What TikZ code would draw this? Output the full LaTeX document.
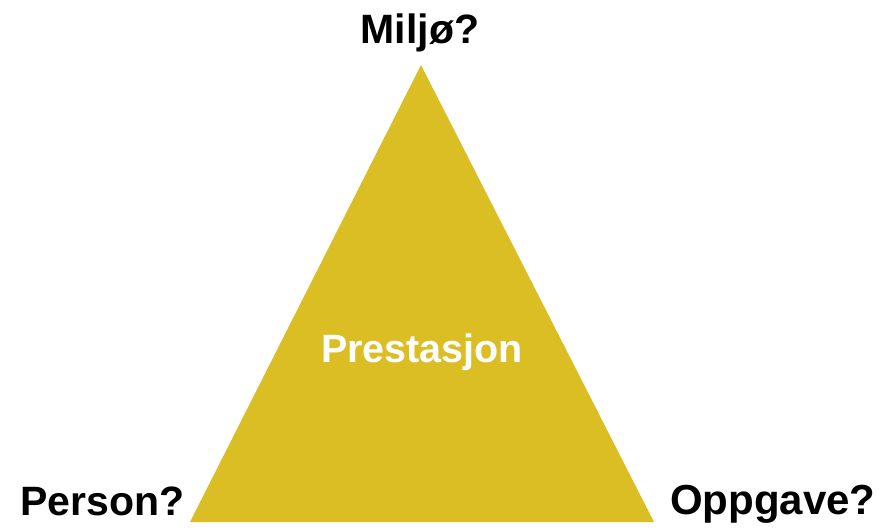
\documentclass[tikz,border=0pt]{standalone}
\usepackage{fontspec}
\setmainfont{Liberation Sans}
\usepackage{tikz}
\definecolor{gold}{RGB}{219,190,36}

\begin{document}
\begin{tikzpicture}[x=1pt, y=-1pt,
    label/.style={font=\fontsize{41}{48}\selectfont\bfseries, inner sep=0pt}]
    \useasboundingbox (0,0) rectangle (889,528);

    % Corners of the triangle
    \coordinate (top) at (421,65);
    \coordinate (left) at (190,522);
    \coordinate (right) at (654,522);
    \fill[gold] (top) -- (left) -- (right) -- cycle;

    % Labels
    \node[label, anchor=base] (milj) at (420,43) {Miljø?};
    \node[label, anchor=base west] (person) at (20,515) {Person?};
    \node[label, anchor=base west, font=\fontsize{42}{48}\selectfont\bfseries] (oppgave) at (670,514) {Oppgave?};
    \node[label, white, anchor=base, font=\fontsize{39.5}{48}\selectfont\bfseries] (prest) at (422,362) {Prestasjon};
\end{tikzpicture}
\end{document}
